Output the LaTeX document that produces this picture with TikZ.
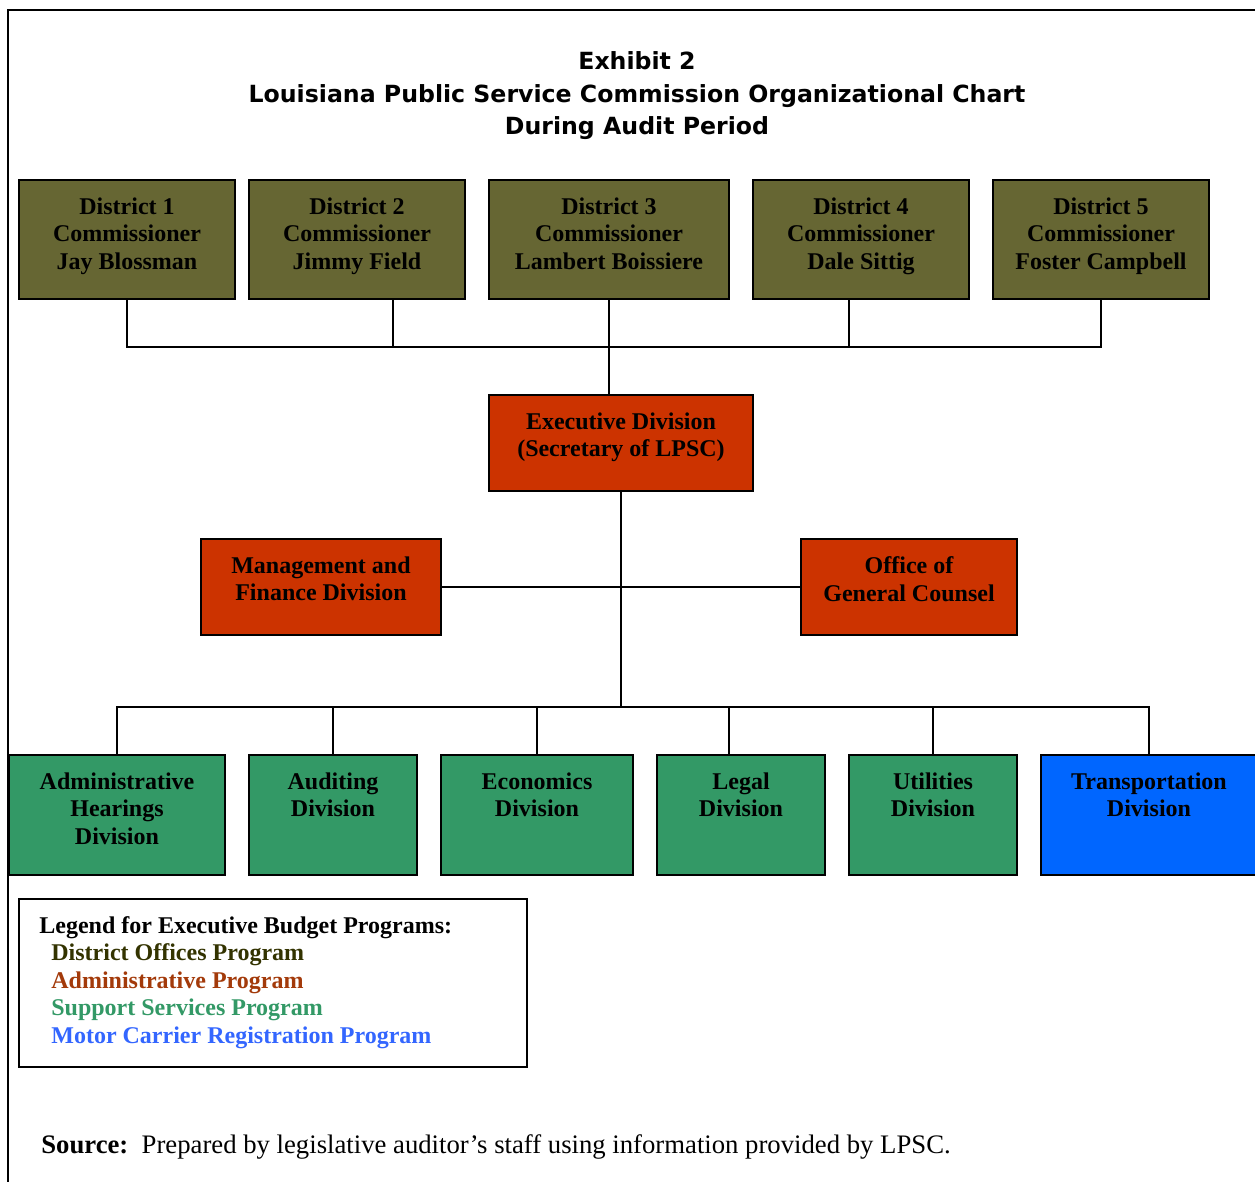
\documentclass[tikz,border=0pt]{standalone}
\usepackage{fontspec}
\setmainfont{Liberation Serif}
\newfontfamily\titlefont{DejaVu Sans}
\definecolor{olivebox}{HTML}{666633}
\definecolor{redbox}{HTML}{CC3300}
\definecolor{greenbox}{HTML}{339966}
\definecolor{bluebox}{HTML}{0066FF}
\definecolor{legolive}{HTML}{333300}
\definecolor{legred}{HTML}{A33A0A}
\definecolor{leggreen}{HTML}{339966}
\definecolor{legblue}{HTML}{3366FF}
\begin{document}
\begin{tikzpicture}[x=0.02cm,y=-0.02cm,
  box/.style={draw=black, line width=1.1pt, inner sep=0pt},
  dbox/.style={box, fill=olivebox, minimum height=2.38cm},
  rbox/.style={box, fill=redbox, minimum height=1.92cm},
  gbox/.style={box, fill=greenbox, minimum height=2.4cm},
  bbox/.style={box, fill=bluebox, minimum height=2.4cm},
  lbl/.style={anchor=north, inner sep=0pt, align=center, yshift=-0.365cm,
    font=\fontsize{13.66}{15.65}\selectfont\bfseries},
  conn/.style={draw=black, line width=1.1pt},
  ttl/.style={anchor=base, inner sep=0pt, font=\titlefont\bfseries\fontsize{13.45}{16}\selectfont},
  leg/.style={anchor=base west, inner sep=0pt, font=\fontsize{13.66}{15.65}\selectfont\bfseries}
]
\useasboundingbox (0,0) rectangle (1255,1182);
\draw[conn] (1255,10) -- (8,10) -- (8,1182);

% title
\node[ttl] (t1) at (637,70) {Exhibit 2};
\node[ttl] (t2) at (637,102.5) {Louisiana Public Service Commission Organizational Chart};
\node[ttl] (t3) at (637,135) {During Audit Period};

% districts
\node[dbox, minimum width=4.32cm] (d1) at (127,239.5) {};
\node[dbox, minimum width=4.32cm] (d2) at (357,239.5) {};
\node[dbox, minimum width=4.8cm] (d3) at (609,239.5) {};
\node[dbox, minimum width=4.32cm] (d4) at (861,239.5) {};
\node[dbox, minimum width=4.32cm] (d5) at (1101,239.5) {};
\node[lbl] (d1t) at (d1.north) {District 1\\Commissioner\\Jay Blossman};
\node[lbl] (d2t) at (d2.north) {District 2\\Commissioner\\Jimmy Field};
\node[lbl] (d3t) at (d3.north) {District 3\\Commissioner\\Lambert Boissiere};
\node[lbl] (d4t) at (d4.north) {District 4\\Commissioner\\Dale Sittig};
\node[lbl] (d5t) at (d5.north) {District 5\\Commissioner\\Foster Campbell};

% executive
\node[rbox, minimum width=5.28cm] (ex) at (621,443) {};
\node[lbl] (ext) at (ex.north) {Executive Division\\(Secretary of LPSC)};
\node[rbox, minimum width=4.8cm] (mg) at (321,587) {};
\node[lbl] (mgt) at (mg.north) {Management and\\Finance Division};
\node[rbox, minimum width=4.32cm] (gc) at (909,587) {};
\node[lbl] (gct) at (gc.north) {Office of\\General Counsel};

% bottom divisions
\node[gbox, minimum width=4.32cm] (b1) at (117,815) {};
\node[gbox, minimum width=3.36cm] (b2) at (333,815) {};
\node[gbox, minimum width=3.84cm] (b3) at (537,815) {};
\node[gbox, minimum width=3.36cm] (b4) at (741,815) {};
\node[gbox, minimum width=3.36cm] (b5) at (933,815) {};
\node[bbox, minimum width=4.32cm] (b6) at (1149,815) {};
\node[lbl] (b1t) at (b1.north) {Administrative\\Hearings\\Division};
\node[lbl] (b2t) at (b2.north) {Auditing\\Division};
\node[lbl] (b3t) at (b3.north) {Economics\\Division};
\node[lbl] (b4t) at (b4.north) {Legal\\Division};
\node[lbl] (b5t) at (b5.north) {Utilities\\Division};
\node[lbl] (b6t) at (b6.north) {Transportation\\Division};

% connectors
\coordinate (top) at (609,347);
\coordinate (bot) at (621,707);
\draw[conn] (d1.south) -- (d1.south |- top) -- (d5.south |- top) -- (d5.south);
\draw[conn] ([xshift=0.72cm]d2.south) -- ([xshift=0.72cm]d2.south |- top);
\draw[conn] ([xshift=-0.24cm]d4.south) -- ([xshift=-0.24cm]d4.south |- top);
\draw[conn] (d3.south) -- (d3.south |- ex.north);
\draw[conn] (ex.south) -- (bot);
\draw[conn] (mg.east) -- (gc.west);
\draw[conn] (b1.north) -- (b1.north |- bot) -- (b6.north |- bot) -- (b6.north);
\draw[conn] (b2.north) -- (b2.north |- bot);
\draw[conn] (b3.north) -- (b3.north |- bot);
\draw[conn] ([xshift=-0.24cm]b4.north) -- ([xshift=-0.24cm]b4.north |- bot);
\draw[conn] (b5.north) -- (b5.north |- bot);

% legend
\node[box, fill=white, minimum width=10.16cm, minimum height=3.36cm] (lg) at (273,983) {};
\node[leg] (lg0) at (39,933) {Legend for Executive Budget Programs:};
\node[leg, text=legolive] (lg1) at (51,960.5) {District Offices Program};
\node[leg, text=legred] (lg2) at (51,988) {Administrative Program};
\node[leg, text=leggreen] (lg3) at (51,1015.5) {Support Services Program};
\node[leg, text=legblue] (lg4) at (51,1043) {Motor Carrier Registration Program};

% source
\node[anchor=base west, inner sep=0pt, font=\fontsize{15.2}{17}\selectfont] (src) at (41,1153)
  {\textbf{Source:}\ \ Prepared by legislative auditor’s staff using information provided by LPSC.};
\end{tikzpicture}
\end{document}
